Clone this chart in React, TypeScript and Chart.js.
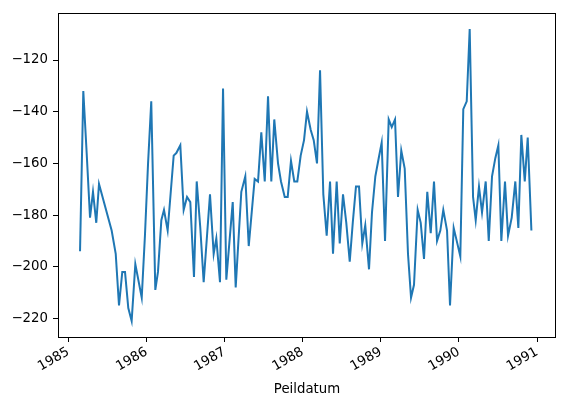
import React, { useEffect, useRef } from "react";
import { Chart, registerables } from "chart.js";

Chart.register(...registerables);

const peilYear = [
  1985.149, 1985.191, 1985.234, 1985.277, 1985.315, 1985.357, 1985.392, 1985.554, 1985.606, 1985.648,
  1985.690, 1985.725, 1985.767, 1985.810, 1985.857, 1985.939, 1985.98, 1986.02, 1986.061, 1986.113,
  1986.147, 1986.190, 1986.224, 1986.271, 1986.348, 1986.382, 1986.433, 1986.476, 1986.519, 1986.561,
  1986.608, 1986.643, 1986.689, 1986.732, 1986.813, 1986.860, 1986.894, 1986.941, 1986.980, 1987.022,
  1987.104, 1987.142, 1987.214, 1987.265, 1987.309, 1987.385, 1987.428, 1987.470, 1987.514, 1987.556,
  1987.598, 1987.636, 1987.684, 1987.722, 1987.770, 1987.808, 1987.850, 1987.892, 1987.931, 1987.974,
  1988.017, 1988.055, 1988.102, 1988.141, 1988.183, 1988.222, 1988.264, 1988.307, 1988.350, 1988.388,
  1988.435, 1988.474, 1988.516, 1988.558, 1988.602, 1988.641, 1988.682, 1988.721, 1988.763, 1988.801,
  1988.849, 1988.887, 1988.930, 1988.973, 1989.011, 1989.054, 1989.101, 1989.140, 1989.182, 1989.220,
  1989.262, 1989.306, 1989.348, 1989.387, 1989.425, 1989.472, 1989.511, 1989.553, 1989.595, 1989.639,
  1989.681, 1989.720, 1989.762, 1989.800, 1989.848, 1989.886, 1989.933, 1989.972, 1990.018, 1990.056,
  1990.100, 1990.138, 1990.181, 1990.215, 1990.257, 1990.296, 1990.343, 1990.382, 1990.424, 1990.466,
  1990.505, 1990.543, 1990.590, 1990.629, 1990.676, 1990.722, 1990.761, 1990.799, 1990.843, 1990.881,
  1990.928,
];

// Groundwater level
const peilValue = [
  -194, -132, -156, -181, -171, -183, -168, -186, -195, -215,
  -202, -202, -216, -221, -199, -212, -188, -160, -136, -209,
  -202, -182, -178, -186, -157, -156, -153, -178, -173, -175,
  -204, -167, -185, -206, -172, -195, -189, -206, -131, -205,
  -175, -208, -171, -165, -192, -166, -167, -148, -167, -134,
  -167, -143, -160, -167, -173, -173, -159, -167, -167, -157,
  -151, -140, -147, -151, -160, -124, -172, -188, -167, -195,
  -167, -191, -172, -183, -198, -183, -169, -169, -191, -184,
  -201, -179, -165, -158, -152, -190, -143, -146, -143, -173,
  -155, -162, -195, -212, -207, -178, -183, -197, -171, -187,
  -167, -190, -186, -178, -186, -215, -185, -190, -196, -139,
  -136, -108, -173, -182, -169, -179, -167, -190, -165, -158,
  -153, -190, -167, -188, -181, -167, -185, -149, -167, -150,
  -186,
];

const xTickValues = [1985, 1986, 1987, 1988, 1989, 1990, 1991];
const yTickValues = [-220, -200, -180, -160, -140, -120];
const xAxisTitle = "Peildatum";

const FONT = { family: "'DejaVu Sans', sans-serif", size: 13.3 };

export default function App() {
  const ref = useRef<HTMLCanvasElement | null>(null);

  useEffect(() => {
    document.body.style.margin = "0";
    const canvas = ref.current;
    if (!canvas) return;

    const frame = {
      id: "frame",
      afterDatasetsDraw(chart: any) {
        const { ctx, chartArea } = chart;
        const l = Math.round(chartArea.left);
        const t = Math.round(chartArea.top);
        const r = Math.round(chartArea.right);
        const b = Math.round(chartArea.bottom);
        ctx.save();
        ctx.strokeStyle = "#000";
        ctx.lineWidth = 1;
        ctx.strokeRect(l + 0.5, t + 0.5, r - l - 1, b - t);
        ctx.restore();
      },
    };

    const chart = new Chart(canvas, {
      type: "line",
      data: {
        datasets: [
          {
            data: peilYear.map((x, i) => ({ x, y: peilValue[i] })),
            borderColor: "#1f77b4",
            borderWidth: 2,
            pointRadius: 0,
            fill: false,
            tension: 0,
          },
        ],
      },
      options: {
        animation: false,
        responsive: false,
        devicePixelRatio: 1,
        layout: { padding: { left: 0, top: 9, right: 7, bottom: 0 } },
        plugins: { legend: { display: false }, tooltip: { enabled: false } },
        scales: {
          x: {
            type: "linear",
            min: 1984.867,
            max: 1991.243,
            afterBuildTicks: (s: any) => {
              s.ticks = xTickValues.map((v) => ({ value: v }));
            },
            afterFit: (s: any) => {
              s.height = 68;
            },
            ticks: {
              autoSkip: false,
              minRotation: 30,
              maxRotation: 30,
              color: "#000",
              font: FONT,
              padding: 2,
              callback: (v: any) => String(v),
            },
            grid: {
              drawOnChartArea: false,
              drawTicks: true,
              tickLength: 5,
              tickColor: "#000",
              tickWidth: 1,
            },
            border: { display: false },
            title: {
              display: true,
              text: xAxisTitle,
              color: "#000",
              font: FONT,
              padding: { top: 0, bottom: 7 },
            },
          },
          y: {
            type: "linear",
            min: -227.2,
            max: -101.8,
            afterBuildTicks: (s: any) => {
              s.ticks = yTickValues.map((v) => ({ value: v }));
            },
            afterFit: (s: any) => {
              s.width = 58;
            },
            ticks: {
              color: "#000",
              font: FONT,
              padding: 5,
              callback: (v: any) => (v < 0 ? "\u2212" + Math.abs(v) : String(v)),
            },
            grid: {
              drawOnChartArea: false,
              drawTicks: true,
              tickLength: 5,
              tickColor: "#000",
              tickWidth: 1,
            },
            border: { display: false },
          },
        },
      },
      plugins: [frame],
    });

    return () => chart.destroy();
  }, []);

  return (
    <div style={{ position: "absolute", left: 0, top: 0, width: 563, height: 405, background: "#fff" }}>
      <canvas ref={ref} width={563} height={405} style={{ width: 563, height: 405, display: "block" }} />
    </div>
  );
}
